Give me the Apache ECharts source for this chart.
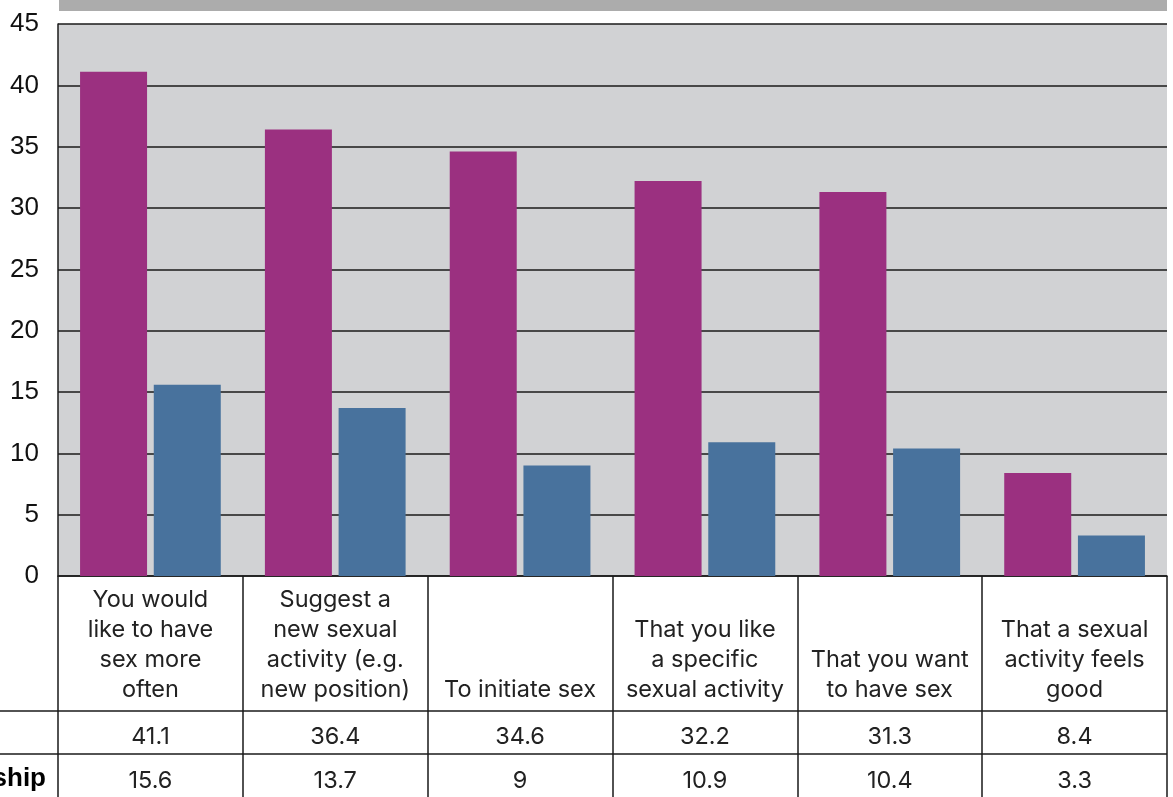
<!DOCTYPE html>
<html>
<head>
<meta charset="utf-8">
<style>
  html, body { margin: 0; padding: 0; background: #ffffff; }
  #chart { width: 1173px; height: 797px; }
</style>
<script src="https://cdn.jsdelivr.net/npm/echarts@6/dist/echarts.min.js"></script>
</head>
<body>
<div id="chart"></div>
<script>
// Categories (pre-broken into the lines shown in the table header cells)
const categories = [
  'You would\nlike to have\nsex more\noften',
  'Suggest a\nnew sexual\nactivity (e.g.\nnew position)',
  'To initiate sex',
  'That you like\na specific\nsexual activity',
  'That you want\nto have sex',
  'That a sexual\nactivity feels\ngood'
];
// Percentages for the two groups
const firstGroup = [41.1, 36.4, 34.6, 32.2, 31.3, 8.4];
const secondGroup = [15.6, 13.7, 9, 10.9, 10.4, 3.3];
const secondGroupLabel = 'In a relationship';
// Value axis range
const yMin = 0, yMax = 45, yStep = 5;

const ink = '#1a1a1a';
const tableFont = 'Inter';

const chart = echarts.init(document.getElementById('chart'), null, { renderer: 'canvas' });

function valueRowAxis(values, margin) {
  return {
    type: 'category',
    data: categories,
    position: 'bottom',
    gridIndex: 0,
    axisLine: { show: false, onZero: false },
    axisTick: { show: false },
    splitLine: { show: false },
    axisLabel: {
      interval: 0,
      margin: margin,
      verticalAlign: 'middle',
      fontFamily: tableFont,
      fontSize: 23.5,
      color: '#222',
      formatter: (v, i) => String(values[i])
    }
  };
}

chart.setOption({
  animation: false,
  grid: {
    left: 58, right: 6, top: 24, bottom: 221,
    show: true, backgroundColor: '#d1d2d4', borderWidth: 0
  },
  xAxis: [
    {
      type: 'category',
      data: categories,
      position: 'bottom',
      axisLine: { show: true, onZero: false, lineStyle: { color: ink, width: 1.5 } },
      axisTick: { show: true, length: 221, lineStyle: { color: ink, width: 1.5 } },
      splitLine: { show: false },
      axisLabel: {
        interval: 0,
        margin: 129,
        verticalAlign: 'bottom',
        lineHeight: 30,
        fontFamily: tableFont,
        fontSize: 23.5,
        color: '#222'
      }
    },
    valueRowAxis(firstGroup, 161),
    valueRowAxis(secondGroup, 205)
  ],
  yAxis: {
    type: 'value',
    min: yMin, max: yMax, interval: yStep,
    axisLine: { show: true, lineStyle: { color: ink, width: 1.5 } },
    axisTick: { show: false },
    splitLine: { show: true, lineStyle: { color: ink, width: 1.5 } },
    axisLabel: {
      margin: 19,
      fontFamily: 'Liberation Sans',
      fontSize: 26,
      color: '#111'
    }
  },
  series: [
    {
      type: 'bar',
      data: firstGroup,
      barWidth: 67,
      barGap: '10%',
      itemStyle: { color: '#9b3080' }
    },
    {
      type: 'bar',
      name: secondGroupLabel,
      data: secondGroup,
      barWidth: 67,
      barGap: '10%',
      itemStyle: { color: '#48729d' }
    }
  ],
  graphic: [
    // banner strip above the plot
    { type: 'rect', shape: { x: 59, y: 0, width: 1108, height: 11 }, style: { fill: '#acacac' } },
    // table row separators
    { type: 'line', shape: { x1: 0, y1: 711, x2: 1167, y2: 711 }, style: { stroke: ink, lineWidth: 1.5 } },
    { type: 'line', shape: { x1: 0, y1: 754, x2: 1167, y2: 754 }, style: { stroke: ink, lineWidth: 1.5 } },
    // row header for the second group
    {
      type: 'text', x: 46, y: 779,
      style: {
        text: secondGroupLabel, align: 'right', verticalAlign: 'middle',
        font: 'bold 26px "Liberation Sans"', fill: '#000'
      }
    }
  ]
});
</script>
</body>
</html>
